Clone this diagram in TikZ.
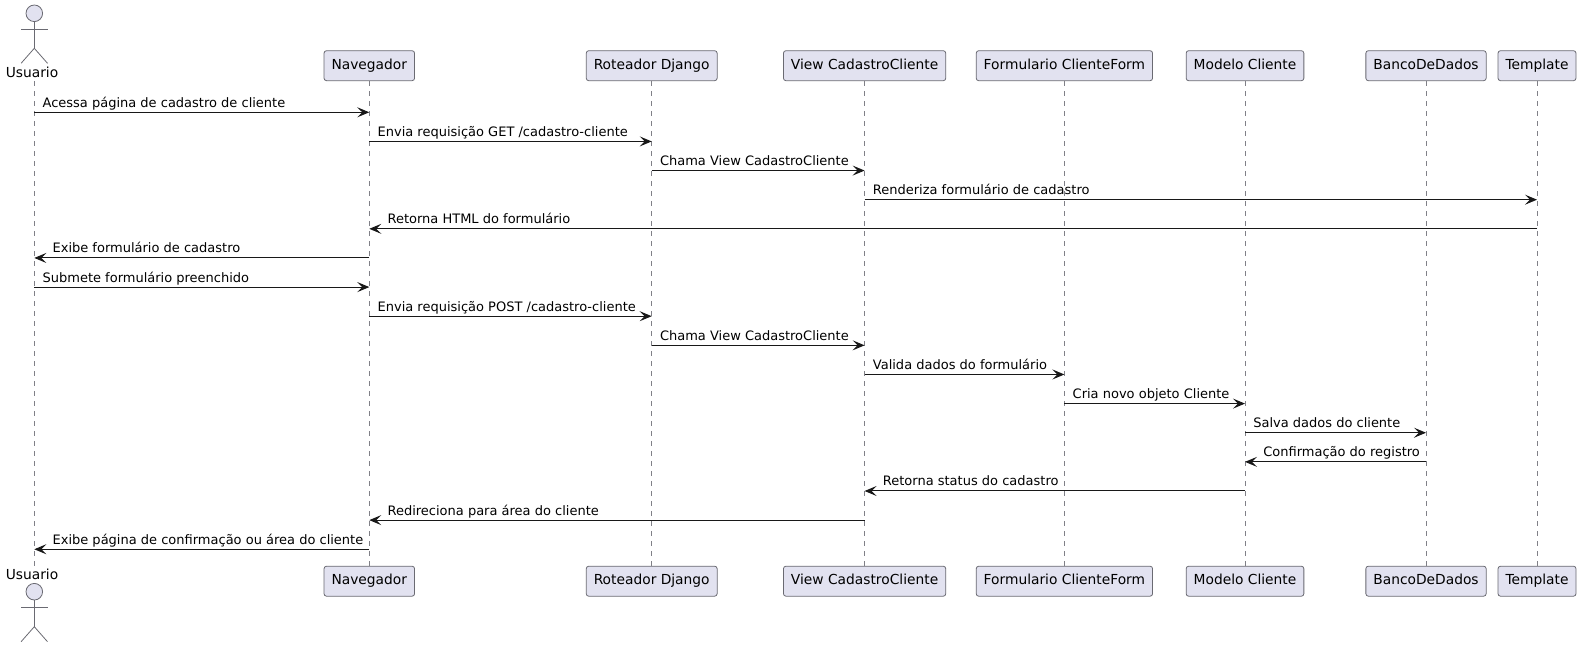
\documentclass[tikz,border=0pt]{standalone}
\usepackage{fontspec}
\setmainfont{DejaVu Sans}
\usetikzlibrary{arrows.meta}
\definecolor{boxfill}{HTML}{E2E2F0}
\definecolor{umlline}{HTML}{181818}
\definecolor{thinline}{HTML}{6A6A72}
\def\actorfig(#1,#2){
	\draw[actorline, fill=boxfill] (#1, #2) circle (8.3);
	\draw[actorline] (#1, #2+8.3) -- (#1, #2+35);
	\draw[actorline] (#1-13.2, #2+15.7) -- (#1+13.2, #2+15.7);
	\draw[actorline] (#1-13.2, #2+50) -- (#1, #2+35) -- (#1+13.2, #2+50);
}
\tikzset{
	actorline/.style={line width=0.8pt, color=thinline},
	partbox/.style={draw=thinline, fill=boxfill, line width=0.8pt, rounded corners=2.5pt, inner xsep=7.5pt, inner ysep=0pt, minimum height=30pt, text height=10.6pt, text depth=3.4pt, font=\fontsize{13.8}{16}\selectfont},
	actorlabel/.style={inner sep=0pt, anchor=base, text height=11pt, text depth=3pt, font=\fontsize{13.8}{16}\selectfont},
	lifeline/.style={line width=0.8pt, color=thinline!85!white, dash pattern=on 5pt off 5pt},
	msg/.style={line width=1pt, color=umlline, -{Stealth[length=12pt, width=10pt, inset=5pt]}},
	msgtxt/.style={inner sep=0pt, text=black, anchor=base west, yshift=5pt, font=\fontsize{13}{15}\selectfont},
	fwdtxt/.style={msgtxt, pos=0, xshift=7.8pt},
	backtxt/.style={msgtxt, pos=1, xshift=17.8pt},
}
\begin{document}
\begin{tikzpicture}[x=1pt, y=-1pt]
	\useasboundingbox (0, 0) rectangle (1582, 647);
	%%%%% PARTICIPANTS %%%%%
	\actorfig(34.3, 13.3);
	\actorfig(34.3, 591.7);
	\coordinate (usr) at (34.3, 0);
	\node[actorlabel] (usrt) at (32, 78) {Usuario};
	\node[actorlabel] (usrb) at (32, 579) {Usuario};
	
	\node[partbox] (navt) at (369.3, 65.7) {Navegador};
	\node[partbox] (rott) at (651.7, 65.7) {Roteador Django};
	\node[partbox] (viewt) at (864.6, 65.7) {View CadastroCliente};
	\node[partbox] (formt) at (1064.4, 65.7) {Formulario ClienteForm};
	\node[partbox] (modt) at (1245, 65.7) {Modelo Cliente};
	\node[partbox] (bdt) at (1426, 65.7) {BancoDeDados};
	\node[partbox] (tplt) at (1537, 65.7) {Template};
	
	\node[partbox] (navb) at (369.3, 581.2) {Navegador};
	\node[partbox] (rotb) at (651.7, 581.2) {Roteador Django};
	\node[partbox] (viewb) at (864.6, 581.2) {View CadastroCliente};
	\node[partbox] (formb) at (1064.4, 581.2) {Formulario ClienteForm};
	\node[partbox] (modb) at (1245, 581.2) {Modelo Cliente};
	\node[partbox] (bdb) at (1426, 581.2) {BancoDeDados};
	\node[partbox] (tplb) at (1537, 581.2) {Template};
	
	%%%%% LIFELINES %%%%%
	\draw[lifeline] (usr |- usrt.south) -- (usr |- usrb.north);
	\draw[lifeline] (navt) -- (navb);
	\draw[lifeline] (rott) -- (rotb);
	\draw[lifeline] (viewt) -- (viewb);
	\draw[lifeline] (formt) -- (formb);
	\draw[lifeline] (modt) -- (modb);
	\draw[lifeline] (bdt) -- (bdb);
	\draw[lifeline] (tplt) -- (tplb);
	
	%%%%% MESSAGES %%%%%
	\foreach \i in {1,...,16} {
		\coordinate (r\i) at (0, {112.3+29.13*(\i-1)});
	}
	\draw[msg] (usr |- r1) -- (navt |- r1) node[fwdtxt] (m1) {Acessa página de cadastro de cliente};
	\draw[msg] (navt |- r2) -- (rott |- r2) node[fwdtxt] (m2) {Envia requisição GET /cadastro-cliente};
	\draw[msg] (rott |- r3) -- (viewt |- r3) node[fwdtxt] (m3) {Chama View CadastroCliente};
	\draw[msg] (viewt |- r4) -- (tplt |- r4) node[fwdtxt] (m4) {Renderiza formulário de cadastro};
	\draw[msg] (tplt |- r5) -- (navt |- r5) node[backtxt] (m5) {Retorna HTML do formulário};
	\draw[msg] (navt |- r6) -- (usr |- r6) node[backtxt] (m6) {Exibe formulário de cadastro};
	\draw[msg] (usr |- r7) -- (navt |- r7) node[fwdtxt] (m7) {Submete formulário preenchido};
	\draw[msg] (navt |- r8) -- (rott |- r8) node[fwdtxt] (m8) {Envia requisição POST /cadastro-cliente};
	\draw[msg] (rott |- r9) -- (viewt |- r9) node[fwdtxt] (m9) {Chama View CadastroCliente};
	\draw[msg] (viewt |- r10) -- (formt |- r10) node[fwdtxt] (m10) {Valida dados do formulário};
	\draw[msg] (formt |- r11) -- (modt |- r11) node[fwdtxt] (m11) {Cria novo objeto Cliente};
	\draw[msg] (modt |- r12) -- (bdt |- r12) node[fwdtxt] (m12) {Salva dados do cliente};
	\draw[msg] (bdt |- r13) -- (modt |- r13) node[backtxt] (m13) {Confirmação do registro};
	\draw[msg] (modt |- r14) -- (viewt |- r14) node[backtxt] (m14) {Retorna status do cadastro};
	\draw[msg] (viewt |- r15) -- (navt |- r15) node[backtxt] (m15) {Redireciona para área do cliente};
	\draw[msg] (navt |- r16) -- (usr |- r16) node[backtxt] (m16) {Exibe página de confirmação ou área do cliente};
\end{tikzpicture}
\end{document}
